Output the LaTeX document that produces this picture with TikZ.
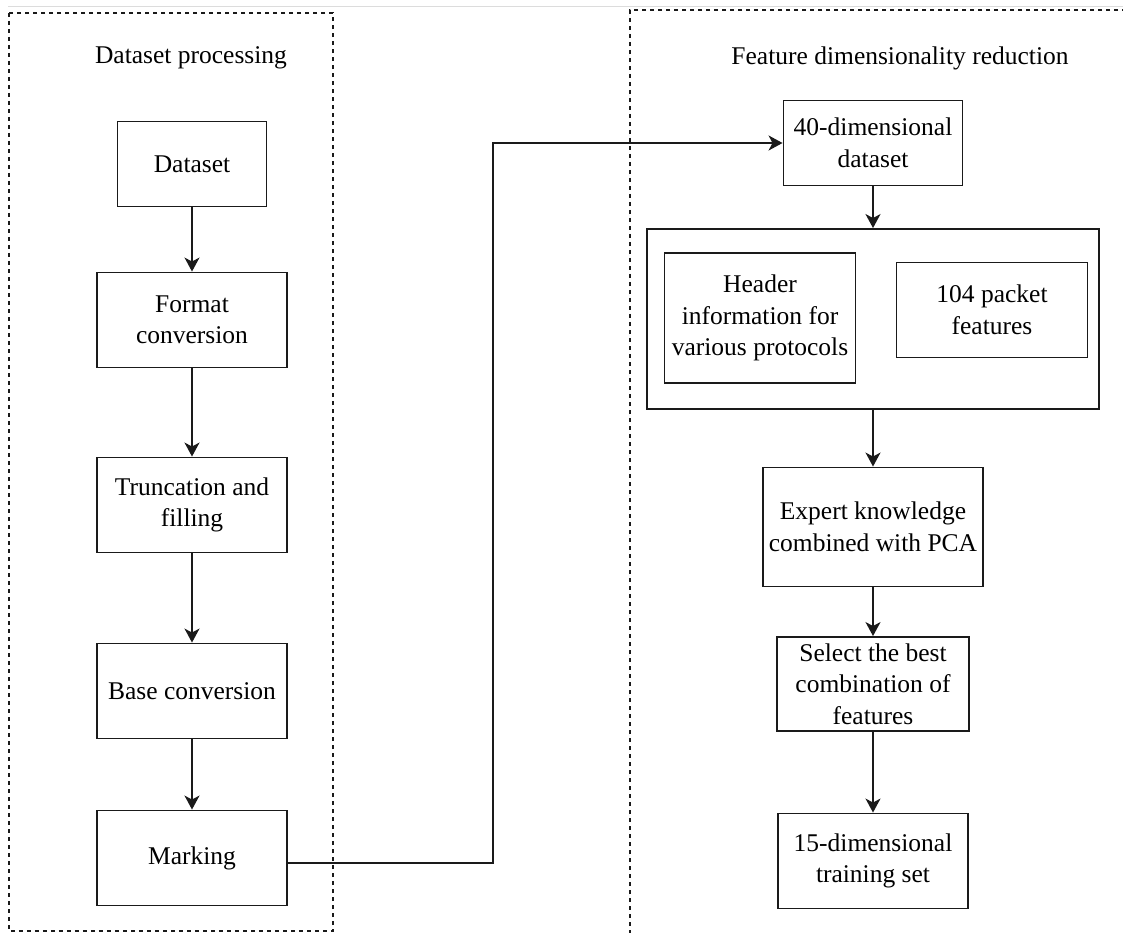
\documentclass[tikz,border=0pt]{standalone}
\usepackage{fontspec}
\setmainfont{Liberation Serif}
\usetikzlibrary{arrows.meta,positioning,calc}
\definecolor{flowink}{HTML}{1A1A1A}
\definecolor{flowrule}{HTML}{DCDCDC}
\tikzset{
  bx/.style={draw=flowink, line width=1.9pt, align=center, inner sep=2pt, font=\fontsize{25.5}{31.5}\selectfont},
  ttl/.style={font=\fontsize{25.5}{31.5}\selectfont},
  grp/.style={draw=flowink, line width=1.2pt, dash pattern=on 4pt off 4pt},
  arr/.style={-{Stealth[length=14pt, width=15pt, inset=4pt]}, line width=1.8pt, color=flowink},
  wide/.style={minimum width=190pt, minimum height=95pt},
}

\begin{document}
\begin{tikzpicture}[x=1pt, y=-1pt]
      \useasboundingbox (0,0) rectangle (1123,933);
      \draw[flowrule, line width=1pt] (8,7) -- (1123,7);
      % group frames
      \draw[grp] (9,13) rectangle (333,931);
      \draw[grp] (1126,10) -- (630,10) -- (630,936);
      \node[ttl] (ttlL) at (191,58) {Dataset processing};
      \node[ttl] (ttlR) at (900,58) {Feature dimensionality reduction};
      % dataset processing
      \node[bx, minimum width=149pt, minimum height=85pt] (ds) at (192,164) {Dataset};
      \node[bx, wide] (fmt) at (192,320) {Format\\conversion};
      \node[bx, wide] (trunc) at (192,505) {Truncation and\\filling};
      \node[bx, wide] (base) at (192,691) {Base conversion};
      \node[bx, wide] (mark) at (192,858) {Marking};
      \draw[arr] (ds) -- (fmt);
      \draw[arr] (fmt) -- (trunc);
      \draw[arr] (trunc) -- (base);
      \draw[arr] (base) -- (mark);
      % feature dimensionality reduction
      \node[bx, minimum width=179pt, minimum height=85pt] (ds40) at (873,143) {40-dimensional\\dataset};
      \node[bx, minimum width=452pt, minimum height=180pt] (feat) at (873,319) {};
      \node[bx, minimum width=191pt, minimum height=130pt] (hdr) at (760,318) {Header\\information for\\various protocols};
      \node[bx, minimum width=191pt, minimum height=95pt] (pkt) at (992,310) {104 packet\\features};
      \node[bx, minimum width=220pt, minimum height=119pt] (pca) at (873,527) {Expert knowledge\\combined with PCA};
      \node[bx, minimum width=192pt, minimum height=94pt] (best) at (873,684) {Select the best\\combination of\\features};
      \node[bx, wide] (ds15) at (873,861) {15-dimensional\\training set};
      \draw[arr] (ds40) -- (feat);
      \draw[arr] (feat) -- (pca);
      \draw[arr] (pca) -- (best);
      \draw[arr] (best) -- (ds15);
      % link between the groups
      \coordinate (bend) at (493,500);
      \draw[arr] ([yshift=-5pt]mark.east) -- ([yshift=-5pt]mark.east -| bend) |- (ds40.west);
    \end{tikzpicture}
\end{document}
